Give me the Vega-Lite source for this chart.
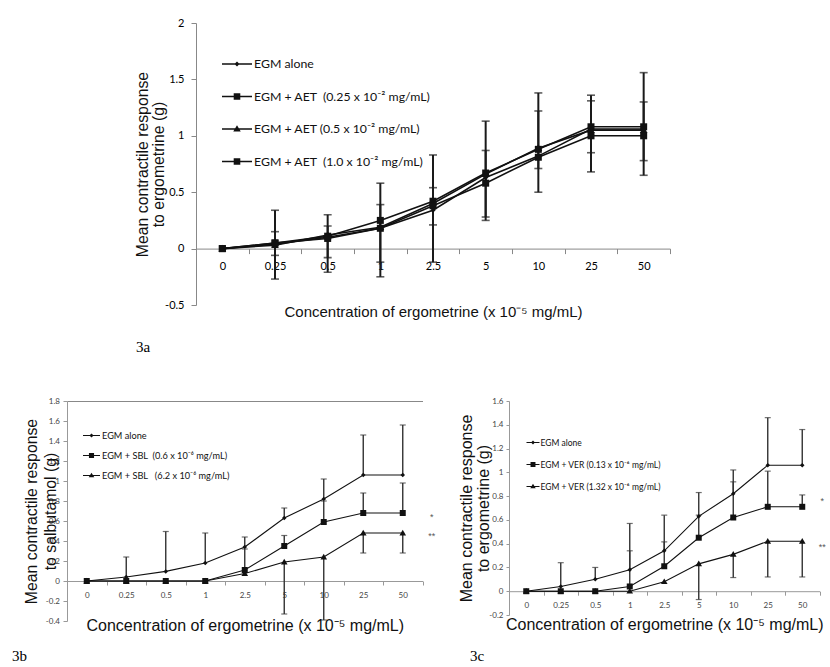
{
  "$schema": "https://vega.github.io/schema/vega-lite/v6.json",
  "background": "white",
  "padding": {"left": 12, "top": 17, "right": 0, "bottom": 0},
  "config": {"view": {"stroke": null}},
  "datasets": {
    "a_mean": [
      {"x": "0", "s": "EGM alone", "y": 0}, {"x": "0.25", "s": "EGM alone", "y": 0.04}, {"x": "0.5", "s": "EGM alone", "y": 0.1}, {"x": "1", "s": "EGM alone", "y": 0.18}, {"x": "2.5", "s": "EGM alone", "y": 0.34}, {"x": "5", "s": "EGM alone", "y": 0.63}, {"x": "10", "s": "EGM alone", "y": 0.82}, {"x": "25", "s": "EGM alone", "y": 1.06}, {"x": "50", "s": "EGM alone", "y": 1.06},
      {"x": "0", "s": "EGM + AET\u00a0\u00a0(0.25 x 10⁻² mg/mL)", "y": 0}, {"x": "0.25", "s": "EGM + AET\u00a0\u00a0(0.25 x 10⁻² mg/mL)", "y": 0.05}, {"x": "0.5", "s": "EGM + AET\u00a0\u00a0(0.25 x 10⁻² mg/mL)", "y": 0.11}, {"x": "1", "s": "EGM + AET\u00a0\u00a0(0.25 x 10⁻² mg/mL)", "y": 0.25}, {"x": "2.5", "s": "EGM + AET\u00a0\u00a0(0.25 x 10⁻² mg/mL)", "y": 0.42}, {"x": "5", "s": "EGM + AET\u00a0\u00a0(0.25 x 10⁻² mg/mL)", "y": 0.67}, {"x": "10", "s": "EGM + AET\u00a0\u00a0(0.25 x 10⁻² mg/mL)", "y": 0.88}, {"x": "25", "s": "EGM + AET\u00a0\u00a0(0.25 x 10⁻² mg/mL)", "y": 1.08}, {"x": "50", "s": "EGM + AET\u00a0\u00a0(0.25 x 10⁻² mg/mL)", "y": 1.08},
      {"x": "0", "s": "EGM + AET (0.5 x 10⁻² mg/mL)", "y": 0}, {"x": "0.25", "s": "EGM + AET (0.5 x 10⁻² mg/mL)", "y": 0.03}, {"x": "0.5", "s": "EGM + AET (0.5 x 10⁻² mg/mL)", "y": 0.12}, {"x": "1", "s": "EGM + AET (0.5 x 10⁻² mg/mL)", "y": 0.19}, {"x": "2.5", "s": "EGM + AET (0.5 x 10⁻² mg/mL)", "y": 0.4}, {"x": "5", "s": "EGM + AET (0.5 x 10⁻² mg/mL)", "y": 0.66}, {"x": "10", "s": "EGM + AET (0.5 x 10⁻² mg/mL)", "y": 0.89}, {"x": "25", "s": "EGM + AET (0.5 x 10⁻² mg/mL)", "y": 1.05}, {"x": "50", "s": "EGM + AET (0.5 x 10⁻² mg/mL)", "y": 1.05},
      {"x": "0", "s": "EGM + AET\u00a0\u00a0(1.0 x 10⁻² mg/mL)", "y": 0}, {"x": "0.25", "s": "EGM + AET\u00a0\u00a0(1.0 x 10⁻² mg/mL)", "y": 0.05}, {"x": "0.5", "s": "EGM + AET\u00a0\u00a0(1.0 x 10⁻² mg/mL)", "y": 0.09}, {"x": "1", "s": "EGM + AET\u00a0\u00a0(1.0 x 10⁻² mg/mL)", "y": 0.18}, {"x": "2.5", "s": "EGM + AET\u00a0\u00a0(1.0 x 10⁻² mg/mL)", "y": 0.38}, {"x": "5", "s": "EGM + AET\u00a0\u00a0(1.0 x 10⁻² mg/mL)", "y": 0.58}, {"x": "10", "s": "EGM + AET\u00a0\u00a0(1.0 x 10⁻² mg/mL)", "y": 0.81}, {"x": "25", "s": "EGM + AET\u00a0\u00a0(1.0 x 10⁻² mg/mL)", "y": 1.0}, {"x": "50", "s": "EGM + AET\u00a0\u00a0(1.0 x 10⁻² mg/mL)", "y": 1.0}
    ],
    "a_err": [
      {"x": "0.25", "s": "A2", "y0": 0.05, "y": 0.34}, {"x": "0.25", "s": "A2", "y0": 0.05, "y": -0.27}, {"x": "0.25", "s": "A3", "y0": 0.03, "y": 0.15}, {"x": "0.25", "s": "A3", "y0": 0.03, "y": -0.06},
      {"x": "0.5", "s": "A2", "y0": 0.11, "y": 0.3}, {"x": "0.5", "s": "A2", "y0": 0.11, "y": -0.21}, {"x": "0.5", "s": "A3", "y0": 0.12, "y": 0.2}, {"x": "0.5", "s": "A3", "y0": 0.12, "y": -0.08},
      {"x": "1", "s": "A2", "y0": 0.25, "y": 0.58}, {"x": "1", "s": "A2", "y0": 0.25, "y": -0.25}, {"x": "1", "s": "A3", "y0": 0.19, "y": 0.39}, {"x": "1", "s": "A3", "y0": 0.19, "y": -0.12},
      {"x": "2.5", "s": "A2", "y0": 0.42, "y": 0.83}, {"x": "2.5", "s": "A2", "y0": 0.42, "y": -0.12}, {"x": "2.5", "s": "A3", "y0": 0.4, "y": 0.54}, {"x": "2.5", "s": "A3", "y0": 0.4, "y": 0.21},
      {"x": "5", "s": "A2", "y0": 0.67, "y": 1.13}, {"x": "5", "s": "A2", "y0": 0.67, "y": 0.25}, {"x": "5", "s": "A3", "y0": 0.66, "y": 0.87}, {"x": "5", "s": "A3", "y0": 0.66, "y": 0.28},
      {"x": "10", "s": "A2", "y0": 0.88, "y": 1.38}, {"x": "10", "s": "A2", "y0": 0.88, "y": 0.5}, {"x": "10", "s": "A3", "y0": 0.89, "y": 1.22}, {"x": "10", "s": "A3", "y0": 0.89, "y": 0.71},
      {"x": "25", "s": "A2", "y0": 1.08, "y": 1.36}, {"x": "25", "s": "A2", "y0": 1.08, "y": 0.68}, {"x": "25", "s": "A3", "y0": 1.05, "y": 1.31}, {"x": "25", "s": "A3", "y0": 1.05, "y": 0.85},
      {"x": "50", "s": "A2", "y0": 1.08, "y": 1.56}, {"x": "50", "s": "A2", "y0": 1.08, "y": 0.65}, {"x": "50", "s": "A3", "y0": 1.05, "y": 1.3}, {"x": "50", "s": "A3", "y0": 1.05, "y": 0.78}
    ],
    "b_mean": [
      {"x": "0", "s": "EGM alone", "y": 0}, {"x": "0.25", "s": "EGM alone", "y": 0.04}, {"x": "0.5", "s": "EGM alone", "y": 0.096}, {"x": "1", "s": "EGM alone", "y": 0.18}, {"x": "2.5", "s": "EGM alone", "y": 0.34}, {"x": "5", "s": "EGM alone", "y": 0.63}, {"x": "10", "s": "EGM alone", "y": 0.82}, {"x": "25", "s": "EGM alone", "y": 1.06}, {"x": "50", "s": "EGM alone", "y": 1.06},
      {"x": "0", "s": "EGM + SBL\u00a0\u00a0(0.6 x 10⁻⁶ mg/mL)", "y": 0}, {"x": "0.25", "s": "EGM + SBL\u00a0\u00a0(0.6 x 10⁻⁶ mg/mL)", "y": 0}, {"x": "0.5", "s": "EGM + SBL\u00a0\u00a0(0.6 x 10⁻⁶ mg/mL)", "y": 0}, {"x": "1", "s": "EGM + SBL\u00a0\u00a0(0.6 x 10⁻⁶ mg/mL)", "y": 0}, {"x": "2.5", "s": "EGM + SBL\u00a0\u00a0(0.6 x 10⁻⁶ mg/mL)", "y": 0.11}, {"x": "5", "s": "EGM + SBL\u00a0\u00a0(0.6 x 10⁻⁶ mg/mL)", "y": 0.35}, {"x": "10", "s": "EGM + SBL\u00a0\u00a0(0.6 x 10⁻⁶ mg/mL)", "y": 0.59}, {"x": "25", "s": "EGM + SBL\u00a0\u00a0(0.6 x 10⁻⁶ mg/mL)", "y": 0.68}, {"x": "50", "s": "EGM + SBL\u00a0\u00a0(0.6 x 10⁻⁶ mg/mL)", "y": 0.68},
      {"x": "0", "s": "EGM + SBL\u00a0\u00a0\u00a0(6.2 x 10⁻⁶ mg/mL)", "y": 0}, {"x": "0.25", "s": "EGM + SBL\u00a0\u00a0\u00a0(6.2 x 10⁻⁶ mg/mL)", "y": 0}, {"x": "0.5", "s": "EGM + SBL\u00a0\u00a0\u00a0(6.2 x 10⁻⁶ mg/mL)", "y": 0}, {"x": "1", "s": "EGM + SBL\u00a0\u00a0\u00a0(6.2 x 10⁻⁶ mg/mL)", "y": 0}, {"x": "2.5", "s": "EGM + SBL\u00a0\u00a0\u00a0(6.2 x 10⁻⁶ mg/mL)", "y": 0.075}, {"x": "5", "s": "EGM + SBL\u00a0\u00a0\u00a0(6.2 x 10⁻⁶ mg/mL)", "y": 0.19}, {"x": "10", "s": "EGM + SBL\u00a0\u00a0\u00a0(6.2 x 10⁻⁶ mg/mL)", "y": 0.24}, {"x": "25", "s": "EGM + SBL\u00a0\u00a0\u00a0(6.2 x 10⁻⁶ mg/mL)", "y": 0.48}, {"x": "50", "s": "EGM + SBL\u00a0\u00a0\u00a0(6.2 x 10⁻⁶ mg/mL)", "y": 0.48}
    ],
    "b_err": [
      {"x": "0.25", "s": "B1", "y0": 0.04, "y": 0.24}, {"x": "0.5", "s": "B1", "y0": 0.096, "y": 0.495}, {"x": "1", "s": "B1", "y0": 0.18, "y": 0.48}, {"x": "2.5", "s": "B1", "y0": 0.34, "y": 0.44}, {"x": "5", "s": "B1", "y0": 0.63, "y": 0.73}, {"x": "10", "s": "B1", "y0": 0.82, "y": 1.02}, {"x": "25", "s": "B1", "y0": 1.06, "y": 1.46}, {"x": "50", "s": "B1", "y0": 1.06, "y": 1.56},
      {"x": "2.5", "s": "B2", "y0": 0.11, "y": 0.32}, {"x": "5", "s": "B2", "y0": 0.35, "y": 0.455}, {"x": "10", "s": "B2", "y0": 0.59, "y": 0.8}, {"x": "25", "s": "B2", "y0": 0.68, "y": 0.88}, {"x": "50", "s": "B2", "y0": 0.68, "y": 0.98},
      {"x": "5", "s": "B3", "y0": 0.19, "y": -0.33}, {"x": "10", "s": "B3", "y0": 0.24, "y": -0.39}, {"x": "25", "s": "B3", "y0": 0.48, "y": 0.28}, {"x": "50", "s": "B3", "y0": 0.48, "y": 0.28}
    ],
    "b_ast": [{"x": "50", "y": 0.64, "t": "*"}, {"x": "50", "y": 0.45, "t": "**"}],
    "c_mean": [
      {"x": "0", "s": "EGM alone", "y": 0}, {"x": "0.25", "s": "EGM alone", "y": 0.04}, {"x": "0.5", "s": "EGM alone", "y": 0.1}, {"x": "1", "s": "EGM alone", "y": 0.18}, {"x": "2.5", "s": "EGM alone", "y": 0.34}, {"x": "5", "s": "EGM alone", "y": 0.63}, {"x": "10", "s": "EGM alone", "y": 0.82}, {"x": "25", "s": "EGM alone", "y": 1.06}, {"x": "50", "s": "EGM alone", "y": 1.06},
      {"x": "0", "s": "EGM + VER (0.13 x 10⁻⁶ mg/mL)", "y": 0}, {"x": "0.25", "s": "EGM + VER (0.13 x 10⁻⁶ mg/mL)", "y": 0}, {"x": "0.5", "s": "EGM + VER (0.13 x 10⁻⁶ mg/mL)", "y": 0}, {"x": "1", "s": "EGM + VER (0.13 x 10⁻⁶ mg/mL)", "y": 0.04}, {"x": "2.5", "s": "EGM + VER (0.13 x 10⁻⁶ mg/mL)", "y": 0.21}, {"x": "5", "s": "EGM + VER (0.13 x 10⁻⁶ mg/mL)", "y": 0.45}, {"x": "10", "s": "EGM + VER (0.13 x 10⁻⁶ mg/mL)", "y": 0.62}, {"x": "25", "s": "EGM + VER (0.13 x 10⁻⁶ mg/mL)", "y": 0.71}, {"x": "50", "s": "EGM + VER (0.13 x 10⁻⁶ mg/mL)", "y": 0.71},
      {"x": "0", "s": "EGM + VER (1.32 x 10⁻⁶ mg/mL)", "y": 0}, {"x": "0.25", "s": "EGM + VER (1.32 x 10⁻⁶ mg/mL)", "y": 0}, {"x": "0.5", "s": "EGM + VER (1.32 x 10⁻⁶ mg/mL)", "y": 0}, {"x": "1", "s": "EGM + VER (1.32 x 10⁻⁶ mg/mL)", "y": 0}, {"x": "2.5", "s": "EGM + VER (1.32 x 10⁻⁶ mg/mL)", "y": 0.08}, {"x": "5", "s": "EGM + VER (1.32 x 10⁻⁶ mg/mL)", "y": 0.23}, {"x": "10", "s": "EGM + VER (1.32 x 10⁻⁶ mg/mL)", "y": 0.31}, {"x": "25", "s": "EGM + VER (1.32 x 10⁻⁶ mg/mL)", "y": 0.42}, {"x": "50", "s": "EGM + VER (1.32 x 10⁻⁶ mg/mL)", "y": 0.42}
    ],
    "c_err": [
      {"x": "0.25", "s": "C1", "y0": 0.04, "y": 0.24}, {"x": "0.5", "s": "C1", "y0": 0.1, "y": 0.2}, {"x": "1", "s": "C1", "y0": 0.18, "y": 0.57}, {"x": "2.5", "s": "C1", "y0": 0.34, "y": 0.64}, {"x": "5", "s": "C1", "y0": 0.63, "y": 0.83}, {"x": "10", "s": "C1", "y0": 0.82, "y": 1.02}, {"x": "25", "s": "C1", "y0": 1.06, "y": 1.46}, {"x": "50", "s": "C1", "y0": 1.06, "y": 1.36},
      {"x": "1", "s": "C2", "y0": 0.04, "y": 0.34}, {"x": "2.5", "s": "C2", "y0": 0.21, "y": 0.415}, {"x": "5", "s": "C2", "y0": 0.45, "y": 0.64}, {"x": "10", "s": "C2", "y0": 0.62, "y": 0.92}, {"x": "25", "s": "C2", "y0": 0.71, "y": 1.01}, {"x": "50", "s": "C2", "y0": 0.71, "y": 0.81},
      {"x": "5", "s": "C3", "y0": 0.23, "y": -0.07}, {"x": "10", "s": "C3", "y0": 0.31, "y": 0.115}, {"x": "25", "s": "C3", "y0": 0.42, "y": 0.12}, {"x": "50", "s": "C3", "y0": 0.42, "y": 0.12}
    ],
    "c_ast": [{"x": "50", "y": 0.755, "t": "*"}, {"x": "50", "y": 0.37, "t": "**"}]
  },
  "spacing": 42,
  "resolve": {"scale": {"shape": "independent"}, "legend": {"shape": "independent"}},
  "vconcat": [
    {
      "spacing": 66,
      "resolve": {"scale": {"shape": "independent"}, "legend": {"shape": "independent"}},
      "hconcat": [
        {"width": 1, "height": 1, "data": {"values": []}, "mark": "point", "encoding": {}},
        {
          "width": 474, "height": 282,
          "title": {"text": "3a", "orient": "bottom", "anchor": "start", "frame": "group", "dx": -60, "offset": 20, "font": "Liberation Serif", "fontSize": 15, "fontWeight": "normal", "color": "#000"},
          "resolve": {"scale": {"shape": "independent"}},
          "encoding": {
            "x": {"field": "x", "type": "ordinal",
              "scale": {"type": "band", "domain": ["0", "0.25", "0.5", "1", "2.5", "5", "10", "25", "50"], "paddingInner": 0, "paddingOuter": 0},
              "axis": {"title": "Concentration of ergometrine (x 10⁻⁵ mg/mL)", "offset": -56.4, "tickBand": "extent", "labelAngle": 0, "domainColor": "#888", "tickColor": "#888", "tickSize": 5, "labelPadding": 7, "labelFont": "Lato", "labelFontSize": 11, "labelColor": "#000", "titleFont": "Liberation Sans", "titleFontSize": 15, "titleFontWeight": "normal", "titleColor": "#111", "titleBaseline": "middle", "titleY": 63}},
            "y": {"field": "y", "type": "quantitative",
              "scale": {"domain": [-0.5, 2], "nice": false, "zero": false},
              "axis": {"title": ["Mean contractile response", "to ergometrine (g)"], "values": [-0.5, 0, 0.5, 1, 1.5, 2], "labelExpr": "toString(datum.value)", "grid": false, "domainColor": "#888", "tickColor": "#888", "tickSize": 5, "labelPadding": 7, "labelFont": "Lato", "labelFontSize": 11, "labelColor": "#000", "titleFont": "Liberation Sans", "titleFontSize": 15.8, "titleFontWeight": "normal", "titleColor": "#111", "titleLineHeight": 16, "titleX": -45.6}}
          },
          "layer": [
            {"data": {"name": "a_err"}, "mark": {"type": "rule", "color": "#1a1a1a", "strokeWidth": 2}, "encoding": {"y2": {"field": "y0"}}},
            {"data": {"name": "a_err"}, "mark": {"type": "tick", "orient": "horizontal", "color": "#1a1a1a", "size": 8, "thickness": 1.6}},
            {"data": {"name": "a_mean"}, "mark": {"type": "line", "color": "#111", "strokeWidth": 1.6}, "encoding": {"detail": {"field": "s"}}},
            {"data": {"name": "a_mean"}, "mark": {"type": "point", "filled": true, "color": "#111", "opacity": 1, "size": 49},
              "encoding": {"shape": {"field": "s", "type": "nominal", "legend": null,
                "scale": {"domain": ["EGM alone", "EGM + AET\u00a0\u00a0(0.25 x 10⁻² mg/mL)", "EGM + AET (0.5 x 10⁻² mg/mL)", "EGM + AET\u00a0\u00a0(1.0 x 10⁻² mg/mL)"],
                  "range": ["M0,-0.75L0.75,0L0,0.75L-0.75,0Z", "M-1,-1H1V1H-1Z", "M0,-1.1L1.1,0.8L-1.1,0.8Z", "M-1,-1H1V1H-1Z"]}}}},
            {"data": {"name": "a_mean"}, "transform": [{"filter": "false"}], "mark": {"type": "point", "filled": true, "color": "#111", "opacity": 1},
              "encoding": {"shape": {"field": "s", "type": "nominal",
                "scale": {"domain": ["EGM alone", "EGM + AET\u00a0\u00a0(0.25 x 10⁻² mg/mL)", "EGM + AET (0.5 x 10⁻² mg/mL)", "EGM + AET\u00a0\u00a0(1.0 x 10⁻² mg/mL)"],
                  "range": ["M-1,-0.05H1V0.05H-1ZM0,-0.17L0.17,0L0,0.17L-0.17,0Z", "M-1,-0.05H1V0.05H-1ZM-0.22,-0.22H0.22V0.22H-0.22Z", "M-1,-0.05H1V0.05H-1ZM0,-0.25L0.25,0.17L-0.25,0.17Z", "M-1,-0.05H1V0.05H-1ZM-0.22,-0.22H0.22V0.22H-0.22Z"]},
                "legend": {"title": null, "orient": "none", "legendX": 26, "legendY": 26, "direction": "vertical", "symbolSize": 900, "symbolFillColor": "#111", "symbolStrokeWidth": 0, "symbolOpacity": 1, "labelFont": "Lato", "labelFontSize": 12.3, "labelColor": "#111", "labelOffset": 2, "rowPadding": 10.5, "labelLimit": 400}}}}
          ]
        }
      ]
    },
    {
      "spacing": 22,
      "resolve": {"scale": {"shape": "independent"}, "legend": {"shape": "independent"}},
      "hconcat": [
        {
          "width": 355.5, "height": 220,
          "title": {"text": "3b", "orient": "bottom", "anchor": "start", "frame": "group", "dx": -55, "offset": 16, "font": "Liberation Serif", "fontSize": 15, "fontWeight": "normal", "color": "#000"},
          "resolve": {"scale": {"shape": "independent"}},
          "encoding": {
            "x": {"field": "x", "type": "ordinal",
              "scale": {"type": "band", "domain": ["0", "0.25", "0.5", "1", "2.5", "5", "10", "25", "50"], "paddingInner": 0, "paddingOuter": 0},
              "axis": {"title": "Concentration of ergometrine (x 10⁻⁵ mg/mL)", "offset": -40, "tickBand": "extent", "labelAngle": 0, "domainColor": "#999", "tickColor": "#999", "tickSize": 4, "labelPadding": 6, "labelFont": "Lato", "labelFontSize": 8, "labelColor": "#444", "titleFont": "Liberation Sans", "titleFontSize": 16, "titleFontWeight": "normal", "titleColor": "#111", "titleBaseline": "middle", "titleY": 44.4}},
            "y": {"field": "y", "type": "quantitative",
              "scale": {"domain": [-0.4, 1.8], "nice": false, "zero": false},
              "axis": {"title": ["Mean contractile response", "to salbutamol (g)"], "values": [-0.4, -0.2, 0, 0.2, 0.4, 0.6, 0.8, 1, 1.2, 1.4, 1.6, 1.8], "labelExpr": "toString(datum.value)", "grid": true, "gridColor": "#888", "gridOpacity": {"condition": {"test": "datum.value === 1.8", "value": 1}, "value": 0}, "domainColor": "#999", "tickColor": "#999", "tickSize": 4, "labelPadding": 3.5, "labelFont": "Lato", "labelFontSize": 8, "labelColor": "#444", "titleFont": "Liberation Sans", "titleFontSize": 15.8, "titleFontWeight": "normal", "titleColor": "#111", "titleLineHeight": 18.5, "titleX": -27.4}}
          },
          "layer": [
            {"data": {"name": "b_err"}, "mark": {"type": "rule", "color": "#333", "strokeWidth": 1.4}, "encoding": {"y2": {"field": "y0"}}},
            {"data": {"name": "b_err"}, "mark": {"type": "tick", "orient": "horizontal", "color": "#333", "size": 6, "thickness": 1.2}},
            {"data": {"name": "b_mean"}, "mark": {"type": "line", "color": "#111", "strokeWidth": 1.1}, "encoding": {"detail": {"field": "s"}}},
            {"data": {"name": "b_mean"}, "mark": {"type": "point", "filled": true, "color": "#111", "opacity": 1, "size": 36},
              "encoding": {"shape": {"field": "s", "type": "nominal", "legend": null,
                "scale": {"domain": ["EGM alone", "EGM + SBL\u00a0\u00a0(0.6 x 10⁻⁶ mg/mL)", "EGM + SBL\u00a0\u00a0\u00a0(6.2 x 10⁻⁶ mg/mL)"],
                  "range": ["M0,-0.75L0.75,0L0,0.75L-0.75,0Z", "M-1,-1H1V1H-1Z", "M0,-1.1L1.1,0.8L-1.1,0.8Z"]}}}},
            {"data": {"name": "b_mean"}, "transform": [{"filter": "false"}], "mark": {"type": "point", "filled": true, "color": "#111", "opacity": 1},
              "encoding": {"shape": {"field": "s", "type": "nominal",
                "scale": {"domain": ["EGM alone", "EGM + SBL\u00a0\u00a0(0.6 x 10⁻⁶ mg/mL)", "EGM + SBL\u00a0\u00a0\u00a0(6.2 x 10⁻⁶ mg/mL)"],
                  "range": ["M-1,-0.065H1V0.065H-1ZM0,-0.24L0.24,0L0,0.24L-0.24,0Z", "M-1,-0.065H1V0.065H-1ZM-0.3,-0.3H0.3V0.3H-0.3Z", "M-1,-0.065H1V0.065H-1ZM0,-0.33L0.33,0.22L-0.33,0.22Z"]},
                "legend": {"title": null, "orient": "none", "legendX": 16, "legendY": 26, "direction": "vertical", "symbolSize": 289, "symbolFillColor": "#111", "symbolStrokeWidth": 0, "symbolOpacity": 1, "labelFont": "Lato", "labelFontSize": 9.2, "labelColor": "#111", "labelOffset": 2, "rowPadding": 6, "labelLimit": 400}}}},
            {"data": {"name": "b_ast"}, "mark": {"type": "text", "dx": 29, "fontSize": 9, "color": "#555", "font": "Liberation Sans"}, "encoding": {"text": {"field": "t"}}}
          ]
        },
        {
          "width": 310.5, "height": 214,
          "title": {"text": "3c", "orient": "bottom", "anchor": "start", "frame": "group", "dx": -39, "offset": 16, "font": "Liberation Serif", "fontSize": 15, "fontWeight": "normal", "color": "#000"},
          "resolve": {"scale": {"shape": "independent"}},
          "encoding": {
            "x": {"field": "x", "type": "ordinal",
              "scale": {"type": "band", "domain": ["0", "0.25", "0.5", "1", "2.5", "5", "10", "25", "50"], "paddingInner": 0, "paddingOuter": 0},
              "axis": {"title": "Concentration of ergometrine (x 10⁻⁵ mg/mL)", "offset": -23.8, "tickBand": "extent", "labelAngle": 0, "domainColor": "#999", "tickColor": "#999", "tickSize": 4, "labelPadding": 6, "labelFont": "Lato", "labelFontSize": 8, "labelColor": "#444", "titleFont": "Liberation Sans", "titleFontSize": 16, "titleFontWeight": "normal", "titleColor": "#111", "titleBaseline": "middle", "titleY": 33.7}},
            "y": {"field": "y", "type": "quantitative",
              "scale": {"domain": [-0.2, 1.6], "nice": false, "zero": false},
              "axis": {"title": ["Mean contractile response", "to ergometrine (g)"], "values": [-0.2, 0, 0.2, 0.4, 0.6, 0.8, 1, 1.2, 1.4, 1.6], "labelExpr": "toString(datum.value)", "grid": false, "domainColor": "#999", "tickColor": "#999", "tickSize": 3, "labelPadding": 3, "labelFont": "Lato", "labelFontSize": 8, "labelColor": "#444", "titleFont": "Liberation Sans", "titleFontSize": 16, "titleFontWeight": "normal", "titleColor": "#111", "titleLineHeight": 17, "titleX": -34.4}}
          },
          "layer": [
            {"data": {"name": "c_err"}, "mark": {"type": "rule", "color": "#333", "strokeWidth": 1.4}, "encoding": {"y2": {"field": "y0"}}},
            {"data": {"name": "c_err"}, "mark": {"type": "tick", "orient": "horizontal", "color": "#333", "size": 6, "thickness": 1.2}},
            {"data": {"name": "c_mean"}, "mark": {"type": "line", "color": "#111", "strokeWidth": 1.1}, "encoding": {"detail": {"field": "s"}}},
            {"data": {"name": "c_mean"}, "mark": {"type": "point", "filled": true, "color": "#111", "opacity": 1, "size": 36},
              "encoding": {"shape": {"field": "s", "type": "nominal", "legend": null,
                "scale": {"domain": ["EGM alone", "EGM + VER (0.13 x 10⁻⁶ mg/mL)", "EGM + VER (1.32 x 10⁻⁶ mg/mL)"],
                  "range": ["M0,-0.75L0.75,0L0,0.75L-0.75,0Z", "M-1,-1H1V1H-1Z", "M0,-1.1L1.1,0.8L-1.1,0.8Z"]}}}},
            {"data": {"name": "c_mean"}, "transform": [{"filter": "false"}], "mark": {"type": "point", "filled": true, "color": "#111", "opacity": 1},
              "encoding": {"shape": {"field": "s", "type": "nominal",
                "scale": {"domain": ["EGM alone", "EGM + VER (0.13 x 10⁻⁶ mg/mL)", "EGM + VER (1.32 x 10⁻⁶ mg/mL)"],
                  "range": ["M-1,-0.08H1V0.08H-1ZM0,-0.3L0.3,0L0,0.3L-0.3,0Z", "M-1,-0.08H1V0.08H-1ZM-0.38,-0.38H0.38V0.38H-0.38Z", "M-1,-0.08H1V0.08H-1ZM0,-0.42L0.42,0.28L-0.42,0.28Z"]},
                "legend": {"title": null, "orient": "none", "legendX": 17.5, "legendY": 35, "direction": "vertical", "symbolSize": 169, "symbolFillColor": "#111", "symbolStrokeWidth": 0, "symbolOpacity": 1, "labelFont": "Lato", "labelFontSize": 8.5, "labelColor": "#111", "labelOffset": 1, "rowPadding": 11, "labelLimit": 400}}}},
            {"data": {"name": "c_ast"}, "mark": {"type": "text", "dx": 20, "fontSize": 9, "color": "#555", "font": "Liberation Sans"}, "encoding": {"text": {"field": "t"}}}
          ]
        }
      ]
    }
  ]
}
